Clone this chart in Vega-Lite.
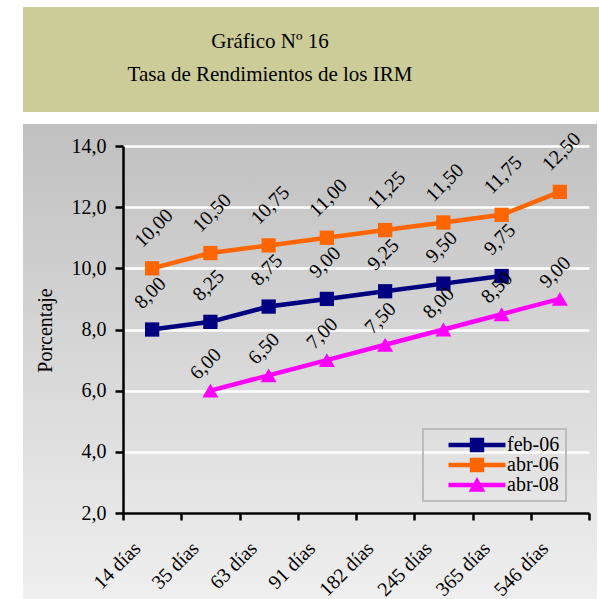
{
  "$schema": "https://vega.github.io/schema/vega-lite/v6.json",
  "padding": {"left": 15, "top": 7, "right": 0, "bottom": 0},
  "background": "white",
  "spacing": 12,
  "bounds": "flush",
  "config": {
    "locale": {"number": {"decimal": ",", "thousands": ".", "grouping": [3], "currency": ["", " €"]}},
    "font": "Liberation Serif",
    "view": {"stroke": null}
  },
  "datasets": {
    "tasas": [
      {"serie": "feb-06", "plazo": "14 días", "tasa": 8.00},
      {"serie": "feb-06", "plazo": "35 días", "tasa": 8.25},
      {"serie": "feb-06", "plazo": "63 días", "tasa": 8.75},
      {"serie": "feb-06", "plazo": "91 días", "tasa": 9.00},
      {"serie": "feb-06", "plazo": "182 días", "tasa": 9.25},
      {"serie": "feb-06", "plazo": "245 días", "tasa": 9.50},
      {"serie": "feb-06", "plazo": "365 días", "tasa": 9.75},
      {"serie": "abr-06", "plazo": "14 días", "tasa": 10.00},
      {"serie": "abr-06", "plazo": "35 días", "tasa": 10.50},
      {"serie": "abr-06", "plazo": "63 días", "tasa": 10.75},
      {"serie": "abr-06", "plazo": "91 días", "tasa": 11.00},
      {"serie": "abr-06", "plazo": "182 días", "tasa": 11.25},
      {"serie": "abr-06", "plazo": "245 días", "tasa": 11.50},
      {"serie": "abr-06", "plazo": "365 días", "tasa": 11.75},
      {"serie": "abr-06", "plazo": "546 días", "tasa": 12.50},
      {"serie": "abr-08", "plazo": "35 días", "tasa": 6.00},
      {"serie": "abr-08", "plazo": "63 días", "tasa": 6.50},
      {"serie": "abr-08", "plazo": "91 días", "tasa": 7.00},
      {"serie": "abr-08", "plazo": "182 días", "tasa": 7.50},
      {"serie": "abr-08", "plazo": "245 días", "tasa": 8.00},
      {"serie": "abr-08", "plazo": "365 días", "tasa": 8.50},
      {"serie": "abr-08", "plazo": "546 días", "tasa": 9.00}
    ]
  },
  "vconcat": [
    {
      "width": 576,
      "height": 105,
      "view": {"fill": "#CCCC99", "stroke": null},
      "data": {"values": [{}]},
      "mark": {
        "type": "text",
        "text": ["Gráfico Nº 16", "Tasa de Rendimientos de los IRM"],
        "font": "Liberation Serif",
        "fontSize": 21,
        "lineHeight": 33,
        "align": "center",
        "baseline": "middle",
        "dx": -41,
        "dy": -18,
        "color": "black"
      }
    },
    {
      "width": 574,
      "height": 475,
      "view": {
        "stroke": null,
        "fill": {
          "gradient": "linear",
          "x1": 0, "y1": 0, "x2": 0, "y2": 1,
          "stops": [
            {"offset": 0, "color": "#c0c0c0"},
            {"offset": 1, "color": "#efefef"}
          ]
        }
      },
      "data": {"name": "tasas"},
      "encoding": {
        "x": {
          "field": "plazo",
          "type": "nominal",
          "sort": ["14 días", "35 días", "63 días", "91 días", "182 días", "245 días", "365 días", "546 días"],
          "scale": {"type": "band", "range": [100, 566], "paddingInner": 0, "paddingOuter": 0},
          "axis": {
            "title": null,
            "offset": -86,
            "tickBand": "extent",
            "grid": false,
            "domainColor": "black",
            "domainWidth": 2.5,
            "tickColor": "black",
            "tickWidth": 2.5,
            "tickSize": 7,
            "labelAngle": -45,
            "labelAlign": "right",
            "labelBaseline": "middle",
            "labelFont": "Liberation Serif",
            "labelFontSize": 20,
            "labelColor": "black",
            "labelPadding": 25,
            "labelOffset": -15
          }
        },
        "y": {
          "field": "tasa",
          "type": "quantitative",
          "scale": {"domain": [2, 14], "range": [389, 22], "nice": false, "zero": false},
          "axis": {
            "title": "Porcentaje",
            "titleFont": "Liberation Serif",
            "titleFontSize": 20,
            "titleFontWeight": "normal",
            "titleColor": "black",
            "titleX": -78,
            "titleY": 206,
            "titleAngle": 270,
            "titleAlign": "center",
            "titleBaseline": "middle",
            "values": [2, 4, 6, 8, 10, 12, 14],
            "format": ".1f",
            "offset": -100,
            "domainColor": "black",
            "domainWidth": 2.5,
            "tickColor": "black",
            "tickWidth": 2.5,
            "tickSize": 8,
            "labelFont": "Liberation Serif",
            "labelFontSize": 20,
            "labelColor": "black",
            "labelPadding": 9,
            "grid": true,
            "gridColor": "white",
            "gridWidth": 2.5,
            "encode": {"grid": {"update": {"x": {"value": 0}, "x2": {"value": 466}}}}
          }
        },
        "color": {
          "field": "serie",
          "type": "nominal",
          "scale": {"domain": ["feb-06", "abr-06", "abr-08"], "range": ["#000080", "#FF6600", "#FF00FF"]},
          "legend": {
            "title": null,
            "orient": "none",
            "legendX": 400,
            "legendY": 422,
            "padding": 6,
            "strokeColor": "#bcbcbc",
            "symbolSize": 256,
            "symbolOffset": 38,
            "labelOffset": 20,
            "rowPadding": 0,
            "labelFont": "Liberation Serif",
            "labelFontSize": 20,
            "labelColor": "black",
            "labelBaseline": "middle",
            "encode": {
              "legend": {"update": {"strokeWidth": {"value": 2}}},
              "symbols": {
                "update": {
                  "shape": {"signal": "datum.value === 'abr-08' ? 'M-3.56,-0.28H3.56V0.28H-3.56Z M0,-1L1.05,0.85H-1.05Z' : 'M-3.56,-0.28H3.56V0.28H-3.56Z M-0.9,-0.9H0.9V0.9H-0.9Z'"},
                  "size": {"value": 256},
                  "fill": {"signal": "datum.value === 'feb-06' ? '#000080' : datum.value === 'abr-06' ? '#FF6600' : '#FF00FF'"},
                  "fillOpacity": {"value": 1},
                  "opacity": {"value": 1},
                  "strokeWidth": {"value": 0}
                }
              }
            }
          }
        }
      },
      "layer": [
        {
          "mark": {"type": "line", "strokeWidth": 4.5},
          "encoding": {"order": {"value": null}}
        },
        {
          "transform": [{"filter": "datum.serie !== 'abr-08'"}],
          "mark": {"type": "point", "shape": "square", "filled": true, "opacity": 1, "size": 204}
        },
        {
          "transform": [{"filter": "datum.serie === 'abr-08'"}],
          "mark": {"type": "point", "shape": "triangle-up", "filled": true, "opacity": 1, "size": 256}
        },
        {
          "transform": [{"filter": "datum.serie !== 'abr-08'"}],
          "mark": {"type": "text", "angle": 315, "align": "left", "baseline": "middle", "dx": 7, "dy": -27, "font": "Liberation Serif", "fontSize": 20, "color": "black"},
          "encoding": {"text": {"field": "tasa", "type": "quantitative", "format": ".2f"}, "color": {"value": "black"}}
        },
        {
          "transform": [{"filter": "datum.serie === 'abr-08'"}],
          "mark": {"type": "text", "angle": 315, "align": "left", "baseline": "middle", "dx": -2, "dy": -22, "font": "Liberation Serif", "fontSize": 20, "color": "black"},
          "encoding": {"text": {"field": "tasa", "type": "quantitative", "format": ".2f"}, "color": {"value": "black"}}
        }
      ]
    }
  ]
}
